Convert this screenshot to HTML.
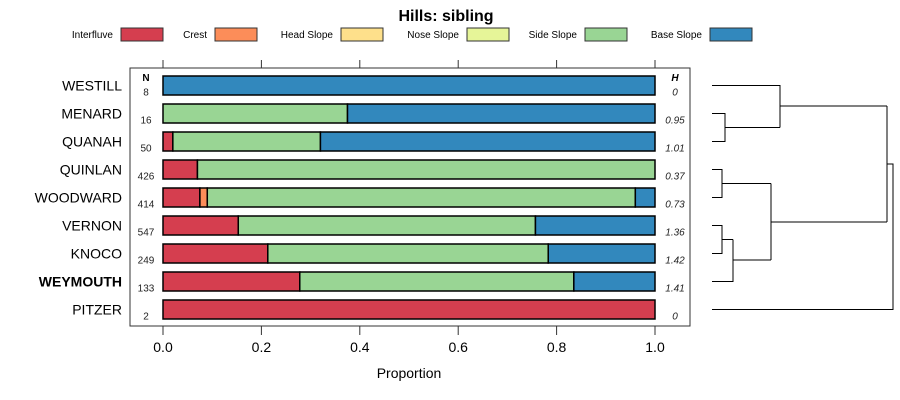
<!DOCTYPE html>
<html><head><meta charset="utf-8"><style>
body{margin:0;background:#fff}
svg{display:block;font-family:"Liberation Sans",sans-serif}
</style></head><body>
<svg id="c" width="900" height="400" viewBox="0 0 900 400">
<text x="446" y="21" text-anchor="middle" font-size="16" font-weight="bold">Hills: sibling</text>
<g id="legend"></g>
<rect x="130" y="68" width="560" height="258" fill="none" stroke="#333"/>
<g id="axes"></g>
<g id="bars"></g>
<g id="dend" fill="none" stroke="#000" stroke-width="1"></g>
<text x="409" y="378" text-anchor="middle" font-size="14">Proportion</text>
<text x="146" y="81" text-anchor="middle" font-size="10" font-weight="bold">N</text>
<text x="675" y="81" text-anchor="middle" font-size="10" font-weight="bold" font-style="italic">H</text>
</svg>
<script>
const categories=["WESTILL","MENARD","QUANAH","QUINLAN","WOODWARD","VERNON","KNOCO","WEYMOUTH","PITZER"];
const classes=["Interfluve","Crest","Head Slope","Nose Slope","Side Slope","Base Slope"];
const colors=["#D53E4F","#FC8D59","#FEE08B","#E6F598","#99D594","#3288BD"];
const interfluve=[0,0,0.02,0.07,0.075,0.153,0.213,0.278,1];
const crest=[0,0,0,0,0.015,0,0,0,0];
const headSlope=[0,0,0,0,0,0,0,0,0];
const noseSlope=[0,0,0,0,0,0,0,0,0];
const sideSlope=[0,0.375,0.30,0.93,0.87,0.604,0.57,0.557,0];
const baseSlope=[1,0.625,0.68,0,0.04,0.243,0.217,0.165,0];
const nValues=["8","16","50","426","414","547","249","133","2"];
const hValues=["0","0.95","1.01","0.37","0.73","1.36","1.42","1.41","0"];
const xTicks=[0,0.2,0.4,0.6,0.8,1.0];
const xTickLabels=["0.0","0.2","0.4","0.6","0.8","1.0"];
const NS="http://www.w3.org/2000/svg";
function mk(tag,attrs,parent,txt){const e=document.createElementNS(NS,tag);for(const k in attrs)e.setAttribute(k,attrs[k]);if(txt!==undefined)e.textContent=txt;parent.appendChild(e);return e;}
const x=v=>163+v*492;
const y=i=>85.5+i*28;
const legend=document.getElementById('legend');
const legX=[121,215,341,467,585,710];
classes.forEach((c,i)=>{
 const t=mk('text',{x:legX[i]-8,y:38,'text-anchor':'end','font-size':10},legend,c);
 
 
 const r=mk('rect',{x:legX[i],y:28,width:42,height:13,fill:colors[i],stroke:'#333'},legend);
 
 
});
const axes=document.getElementById('axes');
xTicks.forEach((v,i)=>{
 const a=mk('line',{x1:x(v),x2:x(v),y1:60,y2:68,stroke:'#333'},axes);
 
 
 const b=mk('line',{x1:x(v),x2:x(v),y1:326,y2:335,stroke:'#333'},axes);
 
 
 const t=mk('text',{x:x(v),y:352,'text-anchor':'middle','font-size':14},axes,xTickLabels[i]);
 
 
});
const bars=document.getElementById('bars');
const series=[interfluve,crest,headSlope,noseSlope,sideSlope,baseSlope];
categories.forEach((c,i)=>{
 const l=mk('text',{x:122,y:y(i)+5,'text-anchor':'end','font-size':14,'font-weight':c==='WEYMOUTH'?'bold':'normal'},bars,c);
 
 
 const n=mk('text',{x:146,y:y(i)+10,'text-anchor':'middle','font-size':10,fill:'#222'},bars,nValues[i]);
 
 
 const h=mk('text',{x:675,y:y(i)+10,'text-anchor':'middle','font-size':10,'font-style':'italic',fill:'#222'},bars,hValues[i]);
 
 
 let cum=0;
 series.forEach((s,k)=>{
  const v=s[i]; if(v<=0)return;
  const r=mk('rect',{x:x(cum),y:y(i)-9.5,width:x(cum+v)-x(cum),height:19,fill:colors[k],stroke:'#000','stroke-width':1.5},bars);
  
  
  cum+=v;
 });
});
const dend=document.getElementById('dend');
const segs=[
 "M712 85.5H780V106H887",
 "M712 113.5H725V141.5H712","M725 127.5H780",
 "M780 85.5V127.5",
 "M712 169.5H722V197.5H712","M722 183.5H771",
 "M712 225.5H722V253.5H712","M722 239.5H733","M712 281.5H733V239.5","M733 260H771",
 "M771 183.5V260","M771 222H887","M887 106V222","M887 164H893V309.5H712"];
segs.forEach(d=>{const p=mk('path',{d:d},dend);
 
 });
</script>
</body></html>
